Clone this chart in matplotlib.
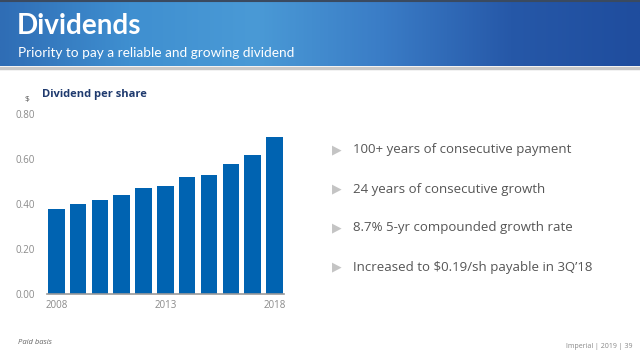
import numpy as np
import matplotlib
matplotlib.use("Agg")
import matplotlib.pyplot as plt
from matplotlib.colors import LinearSegmentedColormap

years = ["2008", "2009", "2010", "2011", "2012", "2013", "2014", "2015", "2016", "2017", "2018"]
dividends = [0.38, 0.40, 0.42, 0.44, 0.47, 0.48, 0.52, 0.53, 0.58, 0.62, 0.70]
shown_years = ["2008", "2013", "2018"]
yticks = [0.0, 0.2, 0.4, 0.6, 0.8]
bullets = [
    "100+ years of consecutive payment",
    "24 years of consecutive growth",
    "8.7% 5-yr compounded growth rate",
    "Increased to $0.19/sh payable in 3Q\u201918",
]

W, H = 640, 362
fig = plt.figure(figsize=(W / 100, H / 100), dpi=100)
fig.patch.set_facecolor("white")

# Header band with gradient
hax = fig.add_axes([0, 1 - 66 / H, 1, 66 / H])
hax.set_axis_off()
cmap = LinearSegmentedColormap.from_list(
    "hdr", ["#2f6db5", "#3f8fd0", "#4a9ad6", "#3a7cc6", "#2658a8", "#1f4d9e"])
grad = np.linspace(0, 1, 256).reshape(1, -1)
hax.imshow(grad, aspect="auto", cmap=cmap, extent=[0, 1, 0, 1])
hax.set_xlim(0, 1)
hax.set_ylim(0, 1)
fig.add_artist(plt.Line2D([0, 1], [1 - 67.5 / H, 1 - 67.5 / H], color="#c8c8c8", lw=2.5))
fig.add_artist(plt.Line2D([0, 1], [1 - 0.5 / H, 1 - 0.5 / H], color="#3a4a60", lw=1.5))

fig.text(17 / W, 1 - 26 / H, "Dividends", color="white", fontsize=20, fontweight="bold",
         va="center", ha="left", family="Lato")
fig.text(18 / W, 1 - 53 / H, "Priority to pay a reliable and growing dividend", color="white",
         fontsize=9.8, va="center", ha="left", family="Lato")

# Chart
ax = fig.add_axes([47 / W, 1 - 294 / H, (284 - 47) / W, (294 - 114) / H])
x = np.arange(len(years))
ax.bar(x, dividends, width=0.76, color="#0063b1")
ax.set_ylim(0, 0.8)
ax.set_xlim(-0.43, 10.44)
ax.set_yticks(yticks)
ax.set_yticklabels([f"{v:.2f}" for v in yticks])
pos = [years.index(y) for y in shown_years]
ax.set_xticks(pos)
ax.set_xticklabels(shown_years)
for s in ["top", "right", "left"]:
    ax.spines[s].set_visible(False)
ax.spines["bottom"].set_color("#999999")
ax.spines["bottom"].set_linewidth(1.2)
ax.tick_params(length=0, labelsize=7, colors="#8a8a8a", pad=4)
ax.tick_params(axis="y", pad=9)
for lab in ax.get_xticklabels() + ax.get_yticklabels():
    lab.set_family("Open Sans")
ax.set_facecolor("white")

fig.text(42 / W, 1 - 94 / H, "Dividend per share", color="#1f3a6e", fontsize=8,
         fontweight="bold", va="center", ha="left", family="Open Sans")
fig.text(27 / W, 1 - 100 / H, "$", color="#555555", fontsize=6, va="center", ha="center",
         family="Open Sans")

# Bullets
bys = [150, 189, 228, 267]
for by, t in zip(bys, bullets):
    fig.text(337 / W, 1 - by / H, "\u25B6", color="#c4c4c4", fontsize=9, va="center",
             ha="center", family="DejaVu Sans")
    fig.text(353 / W, 1 - by / H, t, color="#555555", fontsize=9.5, va="center", ha="left",
             family="Open Sans")

# Footer
fig.text(18 / W, 1 - 342 / H, "Paid basis", color="#666666", fontsize=5.5, style="italic",
         va="center", ha="left", family="Open Sans")
fig.text(632 / W, 1 - 346 / H, "Imperial | 2019 | 39", color="#888888", fontsize=5,
         va="center", ha="right", family="Open Sans")

fig.savefig("out.png", dpi=100)
